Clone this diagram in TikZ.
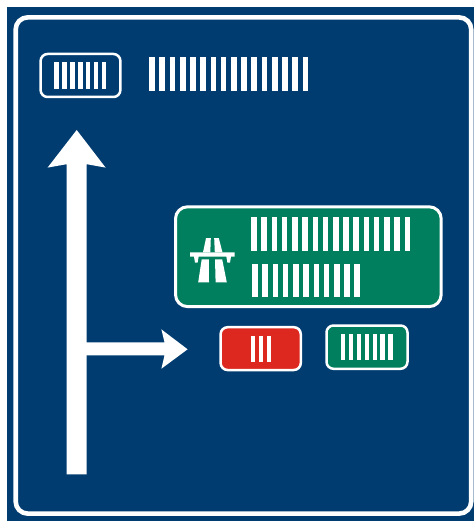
\documentclass[tikz,border=0pt]{standalone}
\definecolor{signblue}{HTML}{003C70}
\definecolor{signgreen}{HTML}{007F5E}
\definecolor{signred}{HTML}{DC281E}
\tikzset{
  panel/.style={draw=white,line width=#1,rounded corners=7pt},
  panel/.default=2.5pt,
  bar/.style={fill=white,draw=none},
  glyph/.style={fill=white,draw=none,line join=round},
}
% \barrow{x}{ytop}{ybottom}{width}{pitch}{count}
\newcommand{\barrow}[6]{%
  \pgfmathtruncatemacro{\lastbar}{#6-1}%
  \foreach \i in {0,...,\lastbar}{%
    \fill[bar] ({#1+\i*#5},#2) rectangle ({#1+\i*#5+#4},#3);
  }%
}
\begin{document}
\begin{tikzpicture}[x=1pt,y=-1pt]
\useasboundingbox (0,0) rectangle (474,521);
\fill[white] (0,0) rectangle (474,521);
\fill[signblue] (7,7) rectangle (474,521);
% border
\draw[white,line width=4.6pt,rounded corners=12pt] (15.7,17.4) rectangle (471.2,513.6);
% top panel
\draw[panel] (40.6,54) rectangle (120.4,97);
\barrow{54.4}{62.3}{88.7}{4.4}{7.9}{7}
\barrow{149.2}{57.3}{90.7}{5.7}{10.22}{16}
% up arrow
\fill[glyph] (76.7,130) -- (105.6,167.6) -- (86.7,164.2) -- (86.7,474.3) -- (66.7,474.3) -- (66.7,164.2) -- (47.6,167.6) -- cycle;
% right arrow
\fill[glyph] (86,342.3) -- (164.5,342.3) -- (161.4,329.4) -- (187.6,349.3) -- (161.4,368.7) -- (164.5,355.4) -- (86,355.4) -- cycle;
% motorway sign
\filldraw[fill=signgreen,draw=white,line width=3pt,rounded corners=12pt] (175.5,206.8) rectangle (441.2,306.6);
\barrow{251.2}{217.4}{250.7}{5.6}{10.22}{16}
\barrow{252.2}{264}{297.3}{5.6}{10.22}{11}
% motorway symbol
\fill[glyph] (206,238.2) -- (210.8,238.2) -- (210.3,252.4) -- (203,252.4) -- cycle;
\fill[glyph] (214.2,238.2) -- (218.8,238.2) -- (222.5,252.4) -- (214.8,252.4) -- cycle;
\fill[glyph] (190,252.4) -- (234.7,252.4) -- (234.7,256.7) -- (231,256.7) -- (230,262.7) -- (227.4,262.7) -- (226.4,256.7) -- (198.6,256.7) -- (197.6,262.7) -- (195,262.7) -- (194,256.7) -- (190,256.7) -- cycle;
\fill[glyph] (201.7,259.3) -- (208.9,259.3) -- (209,282.3) -- (198.2,282.3) -- cycle;
\fill[glyph] (215,259.3) -- (222.2,259.3) -- (226.8,282.3) -- (215.6,282.3) -- cycle;
% red sign
\filldraw[fill=signred,draw=white,line width=2.5pt,rounded corners=7pt] (220.6,327.2) rectangle (300.8,370);
\barrow{250.7}{335.5}{361.7}{4.4}{8}{3}
% green sign
\filldraw[fill=signgreen,draw=white,line width=2.5pt,rounded corners=7pt] (326.5,325.5) rectangle (407.5,368.8);
\barrow{340.9}{334}{360}{4.4}{7.9}{7}
\end{tikzpicture}
\end{document}
